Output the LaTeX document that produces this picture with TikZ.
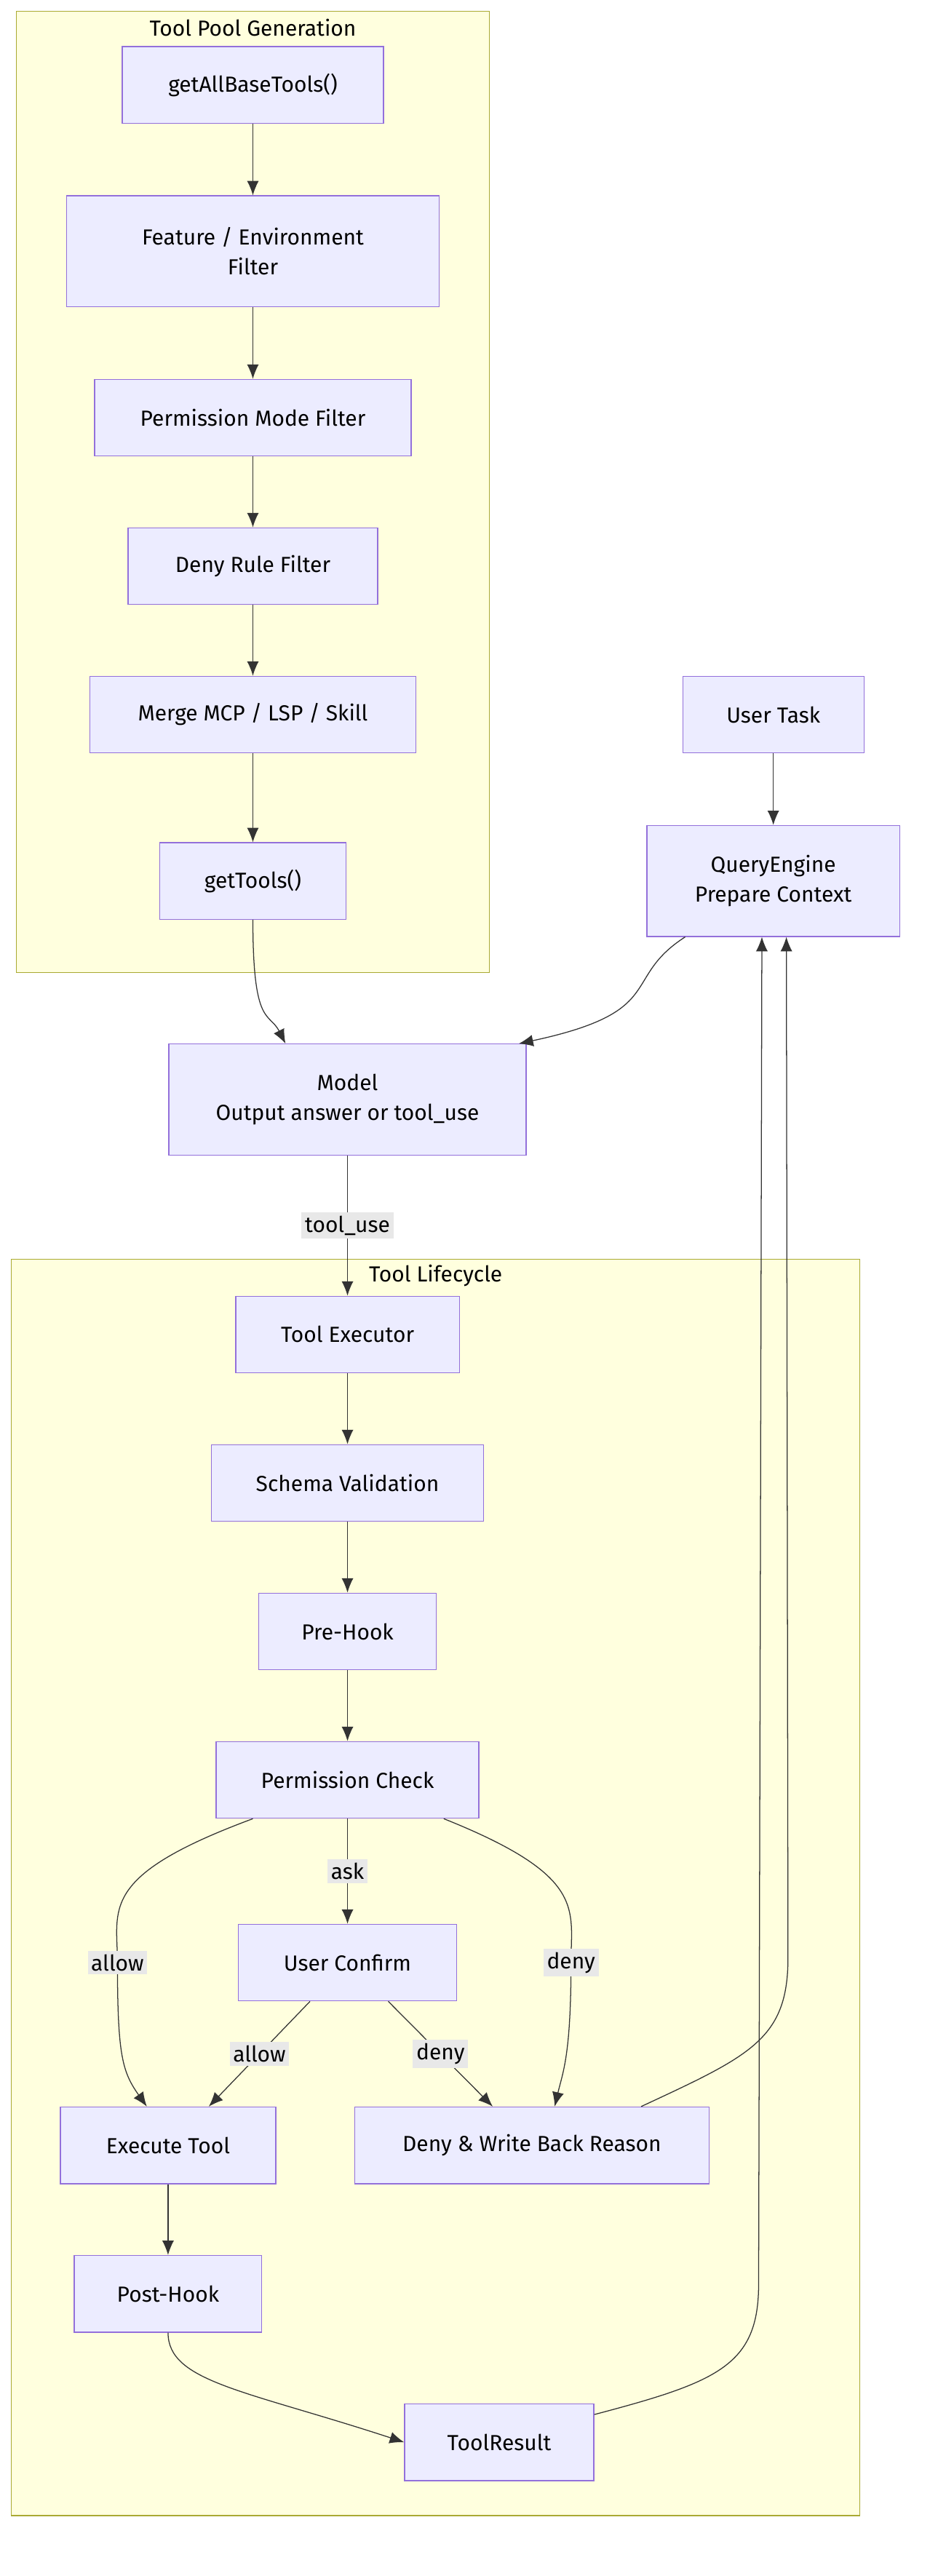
\documentclass[tikz,border=0pt]{standalone}
\usepackage{fontspec}
\setmainfont{Fira Sans}
\usetikzlibrary{arrows.meta,positioning}
\definecolor{nodefill}{HTML}{ECECFF}
\definecolor{nodeline}{HTML}{9370DB}
\definecolor{clusterfill}{HTML}{FFFFDE}
\definecolor{clusterline}{HTML}{AAAA33}
\definecolor{edgecol}{HTML}{333333}
\definecolor{labelbg}{HTML}{E8E8E8}

\begin{document}
\begin{tikzpicture}[
    x=0.025cm, y=-0.025cm,
    font=\fontsize{9.5}{13}\selectfont,
    >={Latex[length=2.2mm,width=1.8mm]},
    box/.style = {
      draw = nodeline,
      fill = nodefill,
      thin,
      align = center,
      minimum height = 1.175cm
    },
    tall/.style = {box, minimum height = 1.7cm},
    cluster/.style = {
      draw = clusterline,
      fill = clusterfill,
      thin
    },
    flow/.style = {->, draw = edgecol, thin},
    elabel/.style = {fill = labelbg, inner sep = 1.5pt}
  ]
  \useasboundingbox (0,0) rectangle (570,1579);

  % clusters
  \draw[cluster] (10,7) rectangle (300,596);
  \node (poolT) at (155,17) {Tool Pool Generation};
  \draw[cluster] (7,772) rectangle (527,1542);
  \node (lifeT) at (267,782) {Tool Lifecycle};

  % tool pool
  \node[box, minimum width=4cm] (base) at (155,52) {getAllBaseTools()};
  \node[tall, minimum width=5.7cm] (feat) at (155,154) {Feature / Environment\\Filter};
  \node[box, minimum width=4.85cm] (pmode) at (155,256) {Permission Mode Filter};
  \node[box, minimum width=3.825cm] (deny) at (155,347) {Deny Rule Filter};
  \node[box, minimum width=5cm] (merge) at (155,438) {Merge MCP / LSP / Skill};
  \node[box, minimum width=2.85cm] (get) at (155,540) {getTools()};

  % query side
  \node[box, minimum width=2.775cm] (task) at (474,438) {User Task};
  \node[tall, minimum width=3.875cm] (query) at (474,540) {QueryEngine\\Prepare Context};
  \node[tall, minimum width=5.475cm] (model) at (213,674) {Model\\Output answer or tool\_use};

  % lifecycle
  \node[box, minimum width=3.425cm] (exec) at (213,818) {Tool Executor};
  \node[box, minimum width=4.175cm] (schema) at (213,909) {Schema Validation};
  \node[box, minimum width=2.725cm] (pre) at (213,1000) {Pre-Hook};
  \node[box, minimum width=4.025cm] (perm) at (213,1091) {Permission Check};
  \node[box, minimum width=3.35cm] (confirm) at (213,1203) {User Confirm};
  \node[box, minimum width=3.3cm] (run) at (103,1315) {Execute Tool};
  \node[box, minimum width=5.425cm] (reject) at (326,1315) {Deny \& Write Back Reason};
  \node[box, minimum width=2.875cm] (post) at (103,1406) {Post-Hook};
  \node[box, minimum width=2.9cm] (result) at (306,1497) {ToolResult};

  % connectors
  \draw[flow] (base) -- (feat);
  \draw[flow] (feat) -- (pmode);
  \draw[flow] (pmode) -- (deny);
  \draw[flow] (deny) -- (merge);
  \draw[flow] (merge) -- (get);
  \draw[flow] (task) -- (query);
  \draw[flow] (get.south) .. controls (155,630) and (165,620) .. (model.north -| 175,0);
  \draw[flow] (query.south -| 420,0) .. controls (380,600) and (410,620) .. (model.north -| 318,0);
  \draw[flow] (model) -- node[elabel] {tool\_use} (exec);
  \draw[flow] (exec) -- (schema);
  \draw[flow] (schema) -- (pre);
  \draw[flow] (pre) -- (perm);
  \draw[flow] (perm) -- node[elabel] {ask} (confirm);
  \draw[flow] (perm.south -| 155,0) .. controls (60,1150) and (72,1170) .. (72,1203)
    node[elabel] {allow} .. controls (72,1260) and (75,1270) .. (run.north -| 90,0);
  \draw[flow] (perm.south -| 272,0) .. controls (360,1150) and (350,1170) .. (350,1203)
    node[elabel] {deny} .. controls (350,1260) and (345,1270) .. (reject.north -| 340,0);
  \draw[flow] (confirm.south -| 190,0) -- node[elabel] {allow} (run.north -| 128,0);
  \draw[flow] (confirm.south -| 238,0) -- node[elabel] {deny} (reject.north -| 302,0);
  \draw[flow] (run) -- (post);
  \draw[flow] (post.south) .. controls (103,1460) and (150,1465) .. (result.west);
  \draw[flow] (result.east |- 0,1480) .. controls (440,1460) and (465,1450) .. (465,1400)
    -- (query.south -| 467,0);
  \draw[flow] (reject.north -| 393,0) .. controls (460,1260) and (483,1250) .. (483,1200)
    -- (query.south -| 482,0);
\end{tikzpicture}
\end{document}
